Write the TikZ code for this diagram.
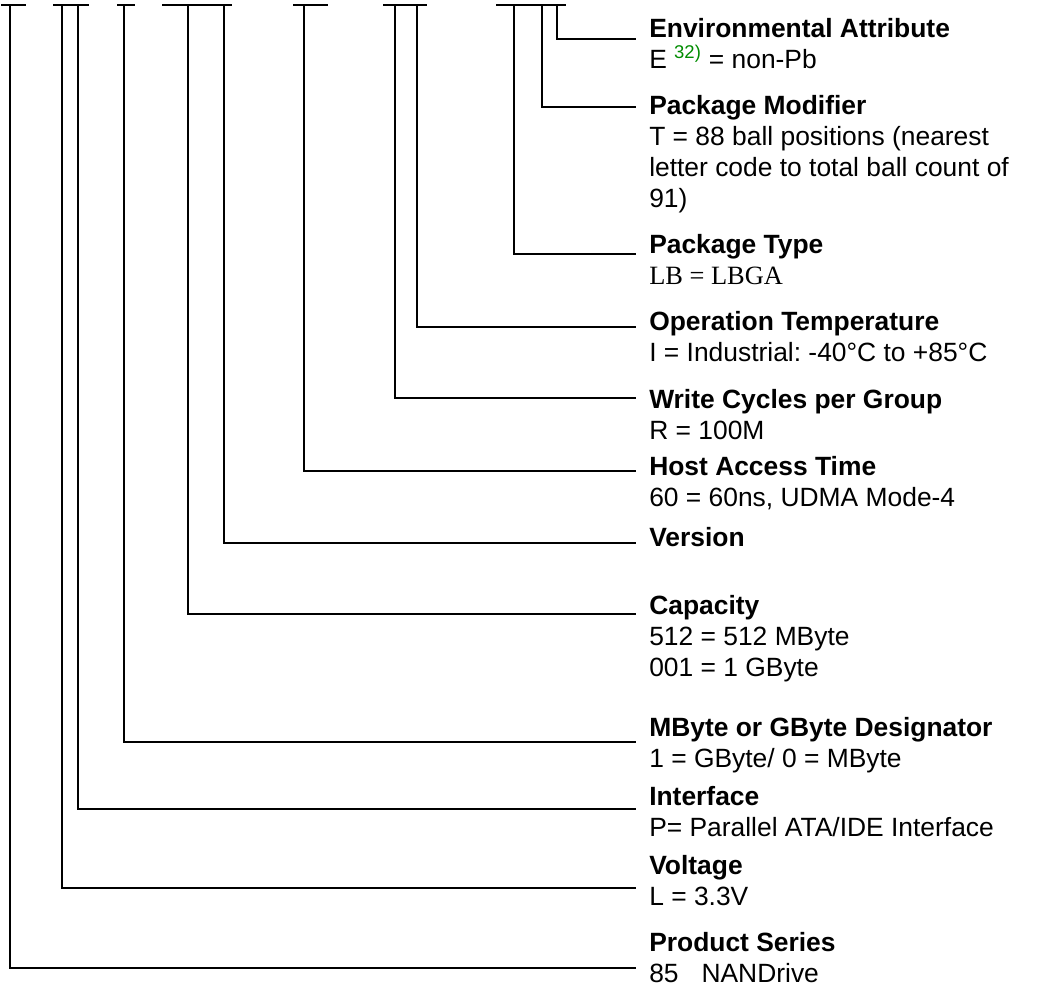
\documentclass[tikz,border=0pt]{standalone}
\usepackage{fontspec}
\setmainfont{Liberation Sans}
\newfontfamily\timesfont{Liberation Serif}
\usepackage{xcolor}
\usetikzlibrary{positioning}
\definecolor{notegreen}{RGB}{0,140,0}
\frenchspacing
\tikzset{lbl/.style={anchor=north west,align=left,inner sep=0pt,font=\fontsize{19.8}{23.2}\selectfont,
    execute at begin node=\rule{0pt}{15pt}},
  lead/.style={line width=1.15pt,black}}

\begin{document}
\begin{tikzpicture}[x=0.75pt,y=-0.75pt]
\useasboundingbox (0,0) rectangle (1062,993);
% bars over the code letters
\foreach \a/\b in {1/26,53/89,117/135,162/232,293/328,383/427,496/566}{\draw[lead] (\a,5)--(\b,5);}
% field descriptions
\node[lbl] (env) at (649,18) {\textbf{Environmental Attribute}\\E \textcolor{notegreen}{\textsuperscript{32)}} = non-Pb};
\node[lbl] (pmod) at (649,95) {\textbf{Package Modifier}\\T = 88 ball positions (nearest\\letter code to total ball count of\\91)};
\node[lbl] (ptype) at (649,234) {\textbf{Package Type}\\{\timesfont LB = LBGA}};
\node[lbl] (temp) at (649,311) {\textbf{Operation Temperature}\\I = Industrial: -40°C to +85°C};
\node[lbl] (cyc) at (649,389) {\textbf{Write Cycles per Group}\\R = 100M};
\node[lbl] (acc) at (649,456) {\textbf{Host Access Time}\\60 = 60ns, UDMA Mode-4};
\node[lbl] (ver) at (649,526) {\textbf{Version}};
\node[lbl] (cap) at (649,595) {\textbf{Capacity}\\512 = 512 MByte\\001 = 1 GByte};
\node[lbl] (desig) at (649,717) {\textbf{MByte or GByte Designator}\\1 = GByte/ 0 = MByte};
\node[lbl] (intf) at (649,786) {\textbf{Interface}\\P= Parallel ATA/IDE Interface};
\node[lbl] (volt) at (649,855) {\textbf{Voltage}\\L = 3.3V};
\node[lbl] (ser) at (649,932) {\textbf{Product Series}\\85\hspace{0.87em}NANDrive};
% leads from the bars to the descriptions
\foreach \x/\h/\n in {557/39/env,542/107/pmod,514/254/ptype,417/327/temp,395/398/cyc,304/471/acc,
  224/543/ver,188/614/cap,124/742/desig,78/809/intf,62/888/volt,10/968/ser}{
  \coordinate (\n-top) at (\x,5); \coordinate (\n-end) at (636,\h);
  \draw[lead] (\n-top) |- (\n-end);}
\end{tikzpicture}
\end{document}
